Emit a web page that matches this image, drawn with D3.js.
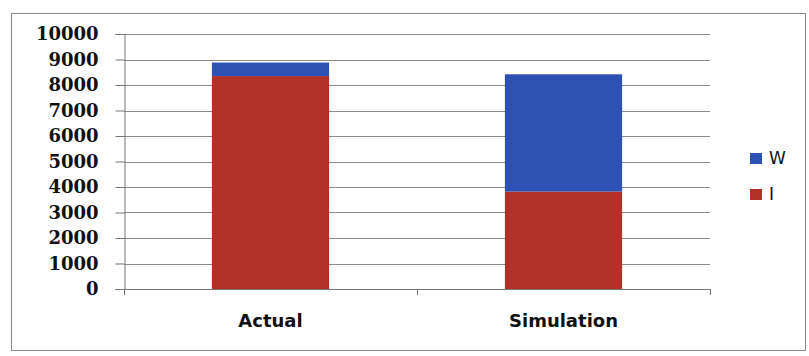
<!DOCTYPE html>
<html><head><meta charset="utf-8">
<script src="https://cdn.jsdelivr.net/npm/d3@7"></script>
<style>body{margin:0;background:#fff}svg{display:block}</style>
</head><body>
<script>
const categories = ["Actual", "Simulation"];
const seriesNames = ["I", "W"];
const valuesI = [8350, 3820];
const valuesW = [530, 4600];
const yTicks = [0,1000,2000,3000,4000,5000,6000,7000,8000,9000,10000];
const colors = {I: "#b2322a", W: "#2d52b3"};

(function () {
const W = 809, H = 356;
const svg = d3.select("body").append("svg").attr("width", W).attr("height", H);

svg.append("rect").attr("x", 11.5).attr("y", 13.5).attr("width", 794).attr("height", 337)
  .attr("fill", "none").attr("stroke", "#8a8a8a").attr("stroke-width", 1);

const pLeft = 124, pRight = 710, pTop = 34, pBottom = 289;
const x = d3.scaleBand().domain(categories).range([pLeft, pRight]).paddingInner(0.6).paddingOuter(0.3);
const y = d3.scaleLinear().domain([0, 10000]).range([pBottom, pTop]);

// gridlines
svg.append("g").selectAll("line").data(yTicks.filter(d => d > 0)).join("line")
  .attr("x1", pLeft).attr("x2", pRight)
  .attr("y1", d => Math.round(y(d)) + 0.5).attr("y2", d => Math.round(y(d)) + 0.5)
  .attr("stroke", "#8c8c8c").attr("stroke-width", 1);

const data = categories.map((c, i) => ({cat: c, I: valuesI[i], W: valuesW[i]}));
const stack = d3.stack().keys(seriesNames)(data);
svg.append("g").selectAll("g").data(stack).join("g")
  .attr("fill", d => colors[d.key])
  .selectAll("rect").data(d => d).join("rect")
  .attr("x", d => x(d.data.cat))
  .attr("width", x.bandwidth())
  .attr("y", d => y(d[1]))
  .attr("height", d => y(d[0]) - y(d[1]));

// y axis
const yAxis = svg.append("g").attr("transform", `translate(${pLeft + 0.5},0)`)
  .call(d3.axisLeft(y).tickValues(yTicks).tickSize(9).tickPadding(17).tickFormat(d3.format("d")));
yAxis.select(".domain").attr("stroke", "#777");
yAxis.selectAll(".tick line").attr("stroke", "#777");
yAxis.selectAll("text").attr("font-family", "DejaVu Serif").attr("font-weight", "bold")
  .attr("font-size", 18).attr("fill", "#111");

// x axis
svg.append("line").attr("x1", pLeft).attr("x2", pRight).attr("y1", pBottom + 0.5).attr("y2", pBottom + 0.5)
  .attr("stroke", "#777");
const boundaries = [pLeft, (pLeft + pRight) / 2, pRight];
svg.append("g").selectAll("line").data(boundaries).join("line")
  .attr("x1", d => Math.round(d) + 0.5).attr("x2", d => Math.round(d) + 0.5)
  .attr("y1", pBottom).attr("y2", pBottom + 6).attr("stroke", "#777");
svg.append("g").selectAll("text").data(categories).join("text")
  .attr("x", d => x(d) + x.bandwidth() / 2).attr("y", 327)
  .attr("text-anchor", "middle").attr("font-family", "DejaVu Sans").attr("font-weight", "bold")
  .attr("font-size", 18).attr("fill", "#111").text(d => d);

// legend
const legendItems = ["W", "I"];
const lg = svg.append("g").selectAll("g").data(legendItems).join("g")
  .attr("transform", (d, i) => `translate(750,${153 + i * 36})`);
lg.append("rect").attr("width", 12).attr("height", 11).attr("fill", d => colors[d]);
lg.append("text").attr("x", 19).attr("y", 11).attr("font-family", "DejaVu Sans")
  .attr("font-size", 17).attr("fill", "#111").text(d => d);
})();
</script>
</body></html>
